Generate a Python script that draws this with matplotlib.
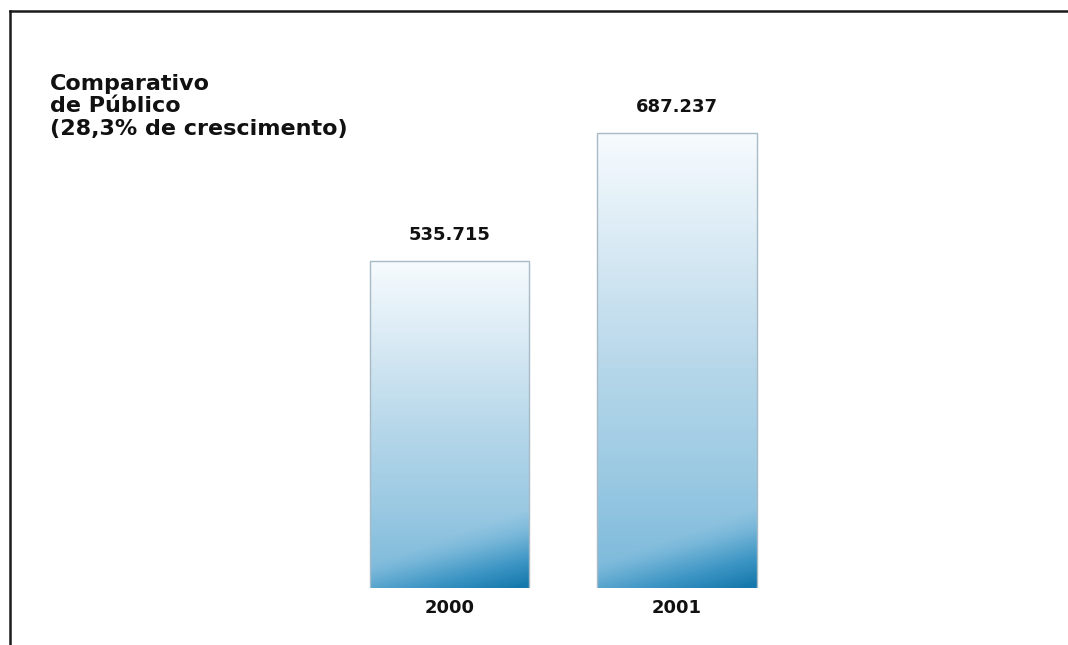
import numpy as np
import matplotlib
matplotlib.use("Agg")
import matplotlib.pyplot as plt
from matplotlib.colors import LinearSegmentedColormap

# data
years = ["2000", "2001"]
publico = [535715, 687237]
value_labels = ["535.715", "687.237"]
title_lines = ["Comparativo", "de Público", "(28,3% de crescimento)"]

W, H = 1068, 645
fig = plt.figure(figsize=(W / 100, H / 100), dpi=100)

# outer frame (only left and top lines)
frame = fig.add_axes([10 / W, 0, 1 - 10 / W, 1 - 11 / H])
frame.set_xticks([])
frame.set_yticks([])
for side in ["right", "bottom"]:
    frame.spines[side].set_visible(False)
for side in ["left", "top"]:
    frame.spines[side].set_linewidth(1.8)
    frame.spines[side].set_color("#1a1a1a")

# chart area
ax = fig.add_axes([10 / W, (H - 588) / H, 1 - 10 / W, (588 - 11) / H])
ax.patch.set_alpha(0)
for s in ax.spines.values():
    s.set_visible(False)

ybot, ytop = 148600, 831660

cmap = LinearSegmentedColormap.from_list(
    "azul", [(0.0, "#f7fbfe"), (0.15, "#d9eaf4"), (0.31, "#b8d8ea"),
             (0.46, "#9ccae3"), (0.62, "#78b7d9"), (0.82, "#3c95c4"),
             (1.0, "#1679ab")])

corner_h = 110000  # height of the dark bottom-right shading, in data units

x = np.arange(len(years))
width = 0.70
bars = ax.bar(x, publico, width=width, color="none", edgecolor="#a9bac7",
              linewidth=1.0, zorder=3)
for b in bars:
    x0 = b.get_x()
    top = b.get_height()
    yy = np.linspace(top, ybot, 300)[:, None]
    s = np.linspace(0, 1, 100)[None, :]
    t = (top - yy) / (top - ybot)
    u = np.clip(1 - (yy - ybot) / corner_h, 0, 1)
    corner = np.clip((u + 0.6 * s - 0.75) / 0.85, 0, 1) ** 1.1
    grad = np.clip(0.62 * t + 0.4 * corner, 0, 1)
    img = ax.imshow(grad, extent=[x0, x0 + b.get_width(), ybot, top],
                    aspect="auto", cmap=cmap, vmin=0, vmax=1, zorder=2,
                    interpolation="bilinear")
    img.set_clip_path(b)

ax.set_xlim(-1.932, 2.719)
ax.set_ylim(ybot, ytop)

for xi, v, lab in zip(x, publico, value_labels):
    ax.annotate(lab, (xi, v), xytext=(0, 19), textcoords="offset points",
                ha="center", va="center", fontsize=13, fontweight="bold",
                color="#111111")

ax.set_xticks(x)
ax.set_xticklabels(years, fontsize=13, fontweight="bold", color="#111111")
ax.set_yticks([])
ax.tick_params(axis="x", length=0, pad=8)

# title block
for i, line in enumerate(title_lines):
    fig.text(50 / W, 1 - (90 + i * 22.5) / H, line, fontsize=16,
             fontweight="bold", color="#111111", va="baseline", ha="left")

fig.savefig("out.png", dpi=100)
